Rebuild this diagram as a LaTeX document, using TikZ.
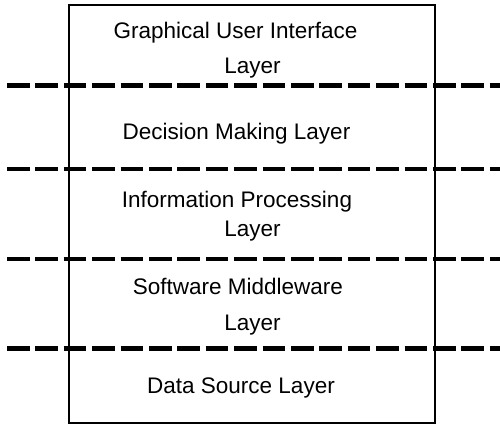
\documentclass[tikz,border=0pt]{standalone}
\usepackage{fontspec}
\setmainfont{Liberation Sans}
\begin{document}
\begin{tikzpicture}[x=1pt,y=-1pt,
  layertext/.style={anchor=base, inner sep=0pt, font=\fontsize{22.5}{27}\selectfont},
  frame/.style={draw, line width=2pt, inner sep=0pt, minimum width=366pt, minimum height=418pt},
  separator/.style={line width=4.6pt, dash pattern=on 22.5pt off 5.9pt}]
  \useasboundingbox (0,0) rectangle (500,426);

  % outer frame of the layer stack
  \node[frame] (stack) at (252,213.5) {};

  % dashed separators between the layers
  \foreach \i/\y in {1/85.5, 2/169, 3/259, 4/348.5} {
    \coordinate (s\i l) at (7,\y);
    \coordinate (s\i r) at (502,\y);
    \draw[separator] (s\i l) -- (s\i r);
  }

  % layer labels
  \node[layertext] (gui1) at (235.5,38.5) {Graphical User Interface};
  \node[layertext] (gui2) at (252.5,73) {Layer};
  \node[layertext] (dm)   at (236.5,139) {Decision Making Layer};
  \node[layertext] (ip1)  at (237,207) {Information Processing};
  \node[layertext] (ip2)  at (252.5,236) {Layer};
  \node[layertext] (sm1)  at (238,294) {Software Middleware};
  \node[layertext] (sm2)  at (252.5,330) {Layer};
  \node[layertext] (ds)   at (241,393) {Data Source Layer};
\end{tikzpicture}
\end{document}
